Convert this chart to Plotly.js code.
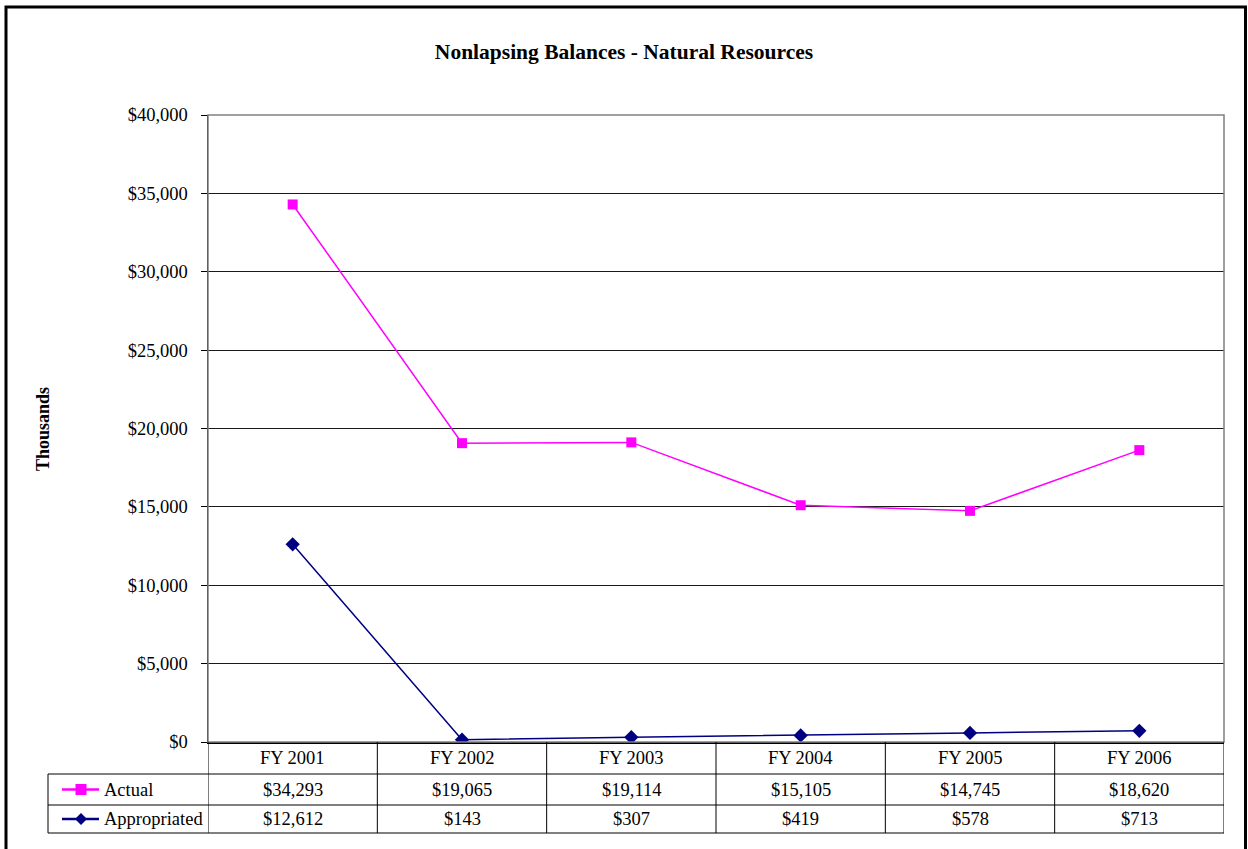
<!DOCTYPE html>
<html>
<head>
<meta charset="utf-8">
<script src="https://cdn.plot.ly/plotly-3.0.1.min.js"></script>
<style>
  html, body { margin: 0; padding: 0; background: #fff; }
  #chart { width: 1248px; height: 849px; }
</style>
</head>
<body>
<div id="chart"></div>
<script>
// Fiscal years and nonlapsing balances (thousands of dollars)
var categories = ['FY 2001', 'FY 2002', 'FY 2003', 'FY 2004', 'FY 2005', 'FY 2006'];
var actual = [34293, 19065, 19114, 15105, 14745, 18620];
var appropriated = [12612, 143, 307, 419, 578, 713];
var seriesNames = ['Actual', 'Appropriated'];

var W = 1248, H = 849;
var M = { l: 208, r: 24, t: 115, b: 107 };
var plotW = W - M.l - M.r, plotH = H - M.t - M.b;
var axisY = H - M.b;

// pixel -> paper helpers for the data table drawn under the plot
function px(X) { return (X - M.l) / plotW; }
function py(Y) { return (axisY - Y) / plotH; }

var FONT = 'Liberation Serif, "Times New Roman", Times, serif';
var textFont = { family: FONT, size: 18.5, color: '#000' };
var colors = ['#FF00FF', '#000080'];

function money(v) { return '$' + v.toLocaleString('en-US'); }

var traces = [
  {
    x: categories, y: actual, name: seriesNames[0], type: 'scatter', mode: 'lines+markers',
    line: { color: colors[0], width: 1.5 },
    marker: { symbol: 'square', size: 10, color: colors[0] }
  },
  {
    x: categories, y: appropriated, name: seriesNames[1], type: 'scatter', mode: 'lines+markers',
    line: { color: colors[1], width: 1.5 },
    marker: { symbol: 'diamond', size: 11, color: colors[1] }
  }
];

// Table geometry (pixel rows)
var rowTop = axisY, row1 = 774, row2 = 805, row3 = 833;
var legendLeft = 48;

var shapes = [];
var lineStyle = { color: '#000', width: 1 };

// plot area border (grey, Excel style)
shapes.push({ type: 'rect', xref: 'paper', yref: 'paper', x0: 0, x1: 1, y0: 0, y1: 1,
  line: { color: '#808080', width: 1.5 }, layer: 'above' });

// horizontal table rules
[row1, row2, row3].forEach(function (Y) {
  shapes.push({ type: 'line', xref: 'paper', yref: 'paper', x0: px(legendLeft), x1: 1,
    y0: py(Y), y1: py(Y), line: lineStyle });
});
// vertical rules between categories
for (var i = 0; i <= categories.length; i++) {
  shapes.push({ type: 'line', xref: 'x', yref: 'paper', x0: i - 0.5, x1: i - 0.5,
    y0: 0, y1: py(row3), line: lineStyle });
}
// left edge of the legend column
shapes.push({ type: 'line', xref: 'paper', yref: 'paper', x0: px(legendLeft), x1: px(legendLeft),
  y0: py(row1), y1: py(row3), line: lineStyle });

// legend keys inside the table
var keyX0 = 62, keyX1 = 99, keyC = 81;
var rowCenters = [(row1 + row2) / 2, (row2 + row3) / 2];
rowCenters.forEach(function (Yc, k) {
  shapes.push({ type: 'line', xref: 'paper', yref: 'paper', x0: px(keyX0), x1: px(keyX1),
    y0: py(Yc), y1: py(Yc), line: { color: colors[k], width: 2.5 } });
});
// square key
shapes.push({ type: 'rect', xref: 'paper', yref: 'paper', x0: px(keyC - 5.5), x1: px(keyC + 5.5),
  y0: py(rowCenters[0] + 5.5), y1: py(rowCenters[0] - 5.5),
  fillcolor: colors[0], line: { width: 0 } });
// diamond key
var dc = rowCenters[1], d = 6;
shapes.push({ type: 'path', xref: 'paper', yref: 'paper',
  path: 'M ' + px(keyC) + ',' + py(dc - d) + ' L ' + px(keyC + d) + ',' + py(dc) +
        ' L ' + px(keyC) + ',' + py(dc + d) + ' L ' + px(keyC - d) + ',' + py(dc) + ' Z',
  fillcolor: colors[1], line: { width: 0 } });

// outer chart frame
shapes.push({ type: 'rect', xref: 'paper', yref: 'paper',
  x0: px(6), x1: px(1245.5), y0: py(870), y1: py(7),
  line: { color: '#000', width: 3 } });

var annotations = [];
// header row: category labels
categories.forEach(function (c, i) {
  annotations.push({ xref: 'x', yref: 'paper', x: i, y: py((rowTop + row1) / 2), text: c,
    showarrow: false, font: textFont, xanchor: 'center', yanchor: 'middle' });
});
// value rows
[actual, appropriated].forEach(function (vals, k) {
  vals.forEach(function (v, i) {
    annotations.push({ xref: 'x', yref: 'paper', x: i, y: py(rowCenters[k]), text: money(v),
      showarrow: false, font: textFont, xanchor: 'center', yanchor: 'middle' });
  });
  annotations.push({ xref: 'paper', yref: 'paper', x: px(102), y: py(rowCenters[k]),
    text: seriesNames[k], showarrow: false, font: textFont, xanchor: 'left', yanchor: 'middle' });
});
// y-axis title
annotations.push({ xref: 'paper', yref: 'paper', x: px(43), y: py(429), text: 'Thousands',
  textangle: -90, showarrow: false, xanchor: 'center', yanchor: 'middle',
  font: { family: FONT, size: 18, color: '#000', weight: 'bold' } });

var layout = {
  width: W, height: H,
  margin: M,
  paper_bgcolor: '#fff', plot_bgcolor: '#fff',
  showlegend: false,
  title: {
    text: 'Nonlapsing Balances - Natural Resources',
    xref: 'container', x: 0.5, xanchor: 'center',
    yref: 'container', y: 1 - 51 / H, yanchor: 'middle',
    font: { family: FONT, size: 21.5, color: '#000', weight: 'bold' }
  },
  xaxis: {
    type: 'category', range: [-0.5, categories.length - 0.5],
    showticklabels: false, ticks: '', showgrid: false, zeroline: false,
    showline: true, linecolor: '#000', linewidth: 1.5, fixedrange: true
  },
  yaxis: {
    range: [0, 40000], dtick: 5000, tick0: 0,
    tickprefix: '$', tickformat: ',d',
    ticks: 'outside', ticklen: 6, tickcolor: '#000', tickwidth: 1,
    ticklabelstandoff: 9,
    showgrid: true, gridcolor: '#1a1a1a', gridwidth: 1,
    zeroline: false, showline: true, linecolor: '#000', linewidth: 1.5,
    tickfont: textFont, fixedrange: true
  },
  shapes: shapes,
  annotations: annotations
};

Plotly.newPlot('chart', traces, layout, { displayModeBar: false, staticPlot: true });
</script>
</body>
</html>
